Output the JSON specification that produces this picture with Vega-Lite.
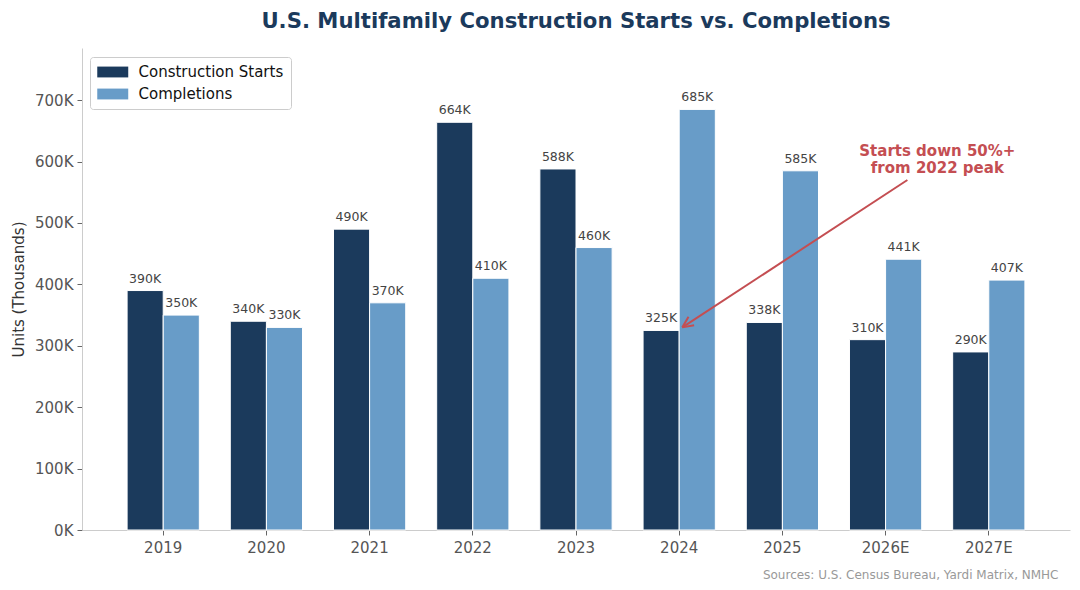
{
  "$schema": "https://vega.github.io/schema/vega-lite/v6.json",
  "width": 988,
  "height": 482,
  "autosize": {"type": "none"},
  "padding": {"left": 82, "top": 48, "right": 10, "bottom": 60},
  "background": "white",
  "config": {"font": "DejaVu Sans", "view": {"stroke": null}},
  "title": {
    "text": "U.S. Multifamily Construction Starts vs. Completions",
    "fontSize": 21.2,
    "fontWeight": "bold",
    "color": "#1b3a5c",
    "anchor": "middle",
    "offset": 16
  },
  "layer": [
    {
      "data": {
        "values": [
          {"year": "2019", "series": "Construction Starts", "value": 390},
          {"year": "2019", "series": "Completions", "value": 350},
          {"year": "2020", "series": "Construction Starts", "value": 340},
          {"year": "2020", "series": "Completions", "value": 330},
          {"year": "2021", "series": "Construction Starts", "value": 490},
          {"year": "2021", "series": "Completions", "value": 370},
          {"year": "2022", "series": "Construction Starts", "value": 664},
          {"year": "2022", "series": "Completions", "value": 410},
          {"year": "2023", "series": "Construction Starts", "value": 588},
          {"year": "2023", "series": "Completions", "value": 460},
          {"year": "2024", "series": "Construction Starts", "value": 325},
          {"year": "2024", "series": "Completions", "value": 685},
          {"year": "2025", "series": "Construction Starts", "value": 338},
          {"year": "2025", "series": "Completions", "value": 585},
          {"year": "2026E", "series": "Construction Starts", "value": 310},
          {"year": "2026E", "series": "Completions", "value": 441},
          {"year": "2027E", "series": "Construction Starts", "value": 290},
          {"year": "2027E", "series": "Completions", "value": 407}
        ]
      },
      "encoding": {
        "x": {
          "field": "year", "type": "nominal", "sort": null,
          "scale": {"paddingInner": 0.3, "paddingOuter": 0.437},
          "axis": {
            "title": "Sources: U.S. Census Bureau, Yardi Matrix, NMHC",
            "titleX": 976, "titleY": 48, "titleAlign": "right", "titleBaseline": "alphabetic",
            "titleFontSize": 12, "titleFontWeight": "normal", "titleColor": "#999999",
            "labelAngle": 0, "labelFontSize": 15, "labelColor": "#555555", "labelPadding": 5,
            "tickColor": "#666666", "tickSize": 5, "domainColor": "#cccccc", "domainWidth": 1
          }
        },
        "xOffset": {"field": "series", "type": "nominal", "sort": ["Construction Starts", "Completions"], "scale": {"paddingInner": 0, "paddingOuter": 0}},
        "y": {
          "field": "value", "type": "quantitative",
          "scale": {"domain": [0, 785], "nice": false, "zero": true},
          "axis": {
            "values": [0, 100, 200, 300, 400, 500, 600, 700],
            "labelExpr": "datum.value + 'K'",
            "title": "Units (Thousands)", "titleFontSize": 15, "titleFontWeight": "normal", "titleColor": "#333333", "titlePadding": 8,
            "labelFontSize": 15, "labelColor": "#555555", "labelPadding": 4,
            "tickColor": "#666666", "tickSize": 5, "domainColor": "#cccccc", "domainWidth": 1, "grid": false
          }
        }
      },
      "layer": [
        {
          "mark": {"type": "bar", "stroke": "white", "strokeWidth": 1},
          "encoding": {
            "color": {
              "field": "series", "type": "nominal",
              "scale": {"domain": ["Construction Starts", "Completions"], "range": ["#1b3a5c", "#689cc8"]},
              "legend": {
                "title": null, "orient": "none", "legendX": 8, "legendY": 9,
                "fillColor": "white", "strokeColor": "#cccccc", "cornerRadius": 3, "padding": 7,
                "symbolType": "M-1,-0.7H3V0.7H-1Z", "symbolSize": 240, "symbolStrokeWidth": 0,
                "labelFontSize": 15, "labelColor": "#111111", "labelOffset": 25.5, "rowPadding": 6
              }
            }
          }
        },
        {
          "transform": [{"calculate": "datum.value + 'K'", "as": "label"}],
          "mark": {"type": "text", "baseline": "bottom", "dy": -5, "fontSize": 12.5, "color": "#444444"},
          "encoding": {
            "text": {"field": "label"}
          }
        }
      ]
    },
    {
      "data": {
        "values": [
          {"x": 7.21, "y": 570, "x2": 5.03, "y2": 330},
          {"x": 5.03, "y": 330, "x2": 5.144, "y2": 333.4},
          {"x": 5.03, "y": 330, "x2": 5.09, "y2": 347.2}
        ]
      },
      "mark": {"type": "rule", "color": "#c44e52", "strokeWidth": 2},
      "encoding": {
        "x": {"field": "x", "type": "quantitative", "scale": {"domain": [-0.785, 8.785], "nice": false, "zero": false}, "axis": null},
        "y": {"field": "y", "type": "quantitative"},
        "x2": {"field": "x2"},
        "y2": {"field": "y2"}
      }
    },
    {
      "data": {
        "values": [
          {"x": 7.5, "y": 609, "note": "Starts down 50%+"},
          {"x": 7.5, "y": 581, "note": "from 2022 peak"}
        ]
      },
      "mark": {"type": "text", "fontSize": 15, "fontWeight": "bold", "color": "#c44e52", "align": "center", "baseline": "alphabetic"},
      "encoding": {
        "x": {"field": "x", "type": "quantitative", "scale": {"domain": [-0.785, 8.785], "nice": false, "zero": false}, "axis": null},
        "y": {"field": "y", "type": "quantitative"},
        "text": {"field": "note"}
      }
    }
  ],
  "resolve": {"scale": {"x": "independent"}}
}
